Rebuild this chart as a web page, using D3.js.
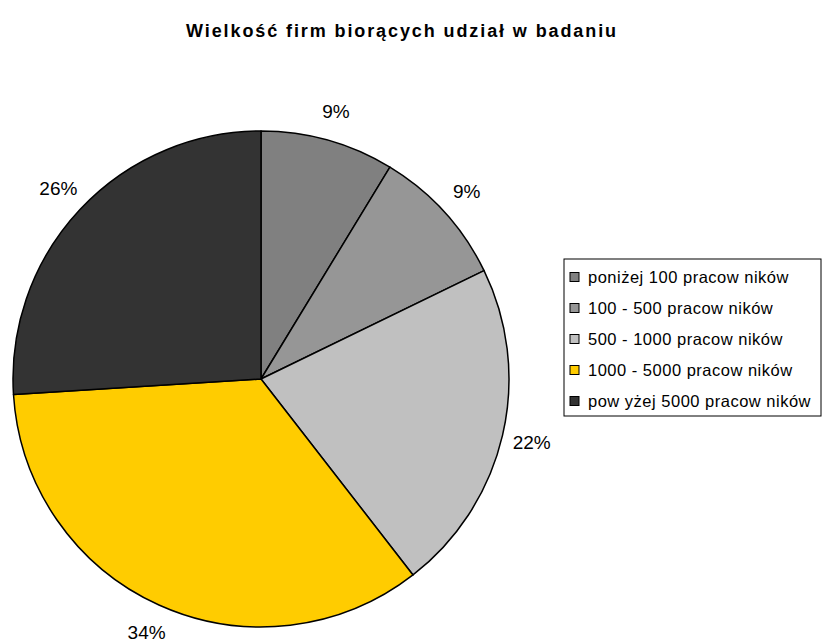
<!DOCTYPE html>
<html>
<head>
<meta charset="utf-8">
<script src="https://cdn.jsdelivr.net/npm/d3@7"></script>
<style>
  body { margin: 0; background: #fff; }
  #vis { width: 827px; height: 644px; }
</style>
</head>
<body>
<div id="vis"></div>
<script>
// data
var categories = ["poniżej 100 pracow ników", "100 - 500 pracow ników", "500 - 1000 pracow ników",
                  "1000 - 5000 pracow ników", "pow yżej 5000 pracow ników"];
var values = [8.7, 9.1, 21.7, 34.5, 26.0];
var pctLabels = ["9%", "9%", "22%", "34%", "26%"];
var colors = ["#808080", "#969696", "#c0c0c0", "#ffcc00", "#333333"];

var width = 827, height = 644;
var cx = 261, cy = 379, radius = 248;

var svg = d3.select("#vis")
  .append("svg")
    .attr("width", width)
    .attr("height", height)
    .style("font-family", "'Liberation Sans', Arial, sans-serif");

// title
svg.append("text")
  .attr("x", 402)
  .attr("y", 37)
  .attr("text-anchor", "middle")
  .style("font-size", "18px")
  .style("font-weight", "bold")
  .style("letter-spacing", "1.9px")
  .text("Wielkość firm biorących udział w badaniu");

var pie = d3.pie().sort(null).value(function (d) { return d; });
var arcs = pie(values);

var arc = d3.arc().innerRadius(0).outerRadius(radius);
var labelArc = d3.arc().innerRadius(278).outerRadius(278);

var g = svg.append("g")
  .attr("transform", "translate(" + cx + "," + cy + ")");

g.selectAll("path")
  .data(arcs)
  .enter()
  .append("path")
    .attr("d", arc)
    .attr("fill", function (d, i) { return colors[i]; })
    .attr("stroke", "#000")
    .attr("stroke-width", 1.5)
    .attr("stroke-linejoin", "round");

g.selectAll("text.pct")
  .data(arcs)
  .enter()
  .append("text")
    .attr("class", "pct")
    .attr("transform", function (d) { return "translate(" + labelArc.centroid(d) + ")"; })
    .attr("text-anchor", "middle")
    .attr("dominant-baseline", "central")
    .style("font-size", "19px")
    .text(function (d, i) { return pctLabels[i]; });

// legend
var legend = svg.append("g")
  .attr("transform", "translate(564,259)");

legend.append("rect")
  .attr("width", 257)
  .attr("height", 157)
  .attr("fill", "#fff")
  .attr("stroke", "#000")
  .attr("stroke-width", 1);

var items = legend.selectAll("g.item")
  .data(categories)
  .enter()
  .append("g")
    .attr("class", "item")
    .attr("transform", function (d, i) { return "translate(0," + (18 + i * 31) + ")"; });

items.append("rect")
  .attr("x", 6)
  .attr("y", -4.5)
  .attr("width", 9)
  .attr("height", 9)
  .attr("fill", function (d, i) { return colors[i]; })
  .attr("stroke", "#000")
  .attr("stroke-width", 1);

items.append("text")
  .attr("x", 24)
  .attr("y", 0)
  .attr("dominant-baseline", "central")
  .style("font-size", "16.5px")
  .style("letter-spacing", "0.5px")
  .text(function (d) { return d; });
</script>
</body>
</html>
